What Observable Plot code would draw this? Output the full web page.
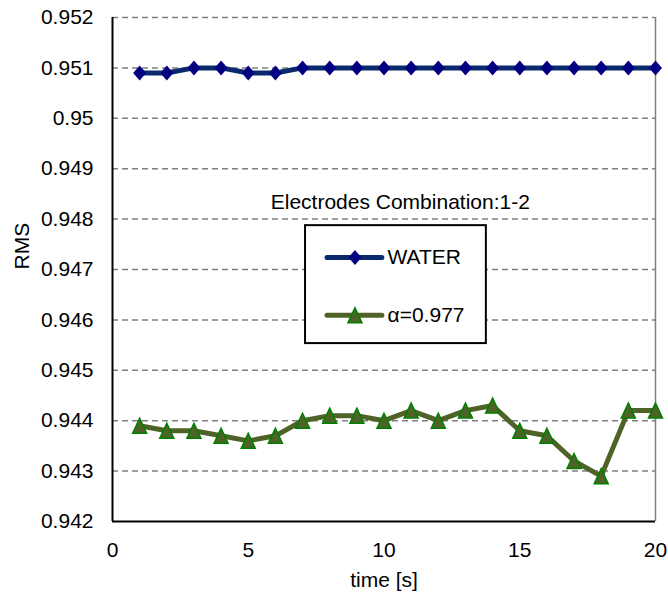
<!DOCTYPE html>
<html>
<head>
<meta charset="utf-8">
<script src="https://cdn.jsdelivr.net/npm/d3@7"></script>
<script src="https://cdn.jsdelivr.net/npm/@observablehq/plot@0.6"></script>
<style>
  html, body { margin: 0; padding: 0; background: #fff; }
  #chart svg { display: block; }
</style>
</head>
<body>
<div id="chart"></div>
<script>
// ---- data ----
const time = [1,2,3,4,5,6,7,8,9,10,11,12,13,14,15,16,17,18,19,20];
const water = [0.9509,0.9509,0.9510,0.9510,0.9509,0.9509,0.9510,0.9510,0.9510,0.9510,
               0.9510,0.9510,0.9510,0.9510,0.9510,0.9510,0.9510,0.9510,0.9510,0.9510];
const alpha977 = [0.9439,0.9438,0.9438,0.9437,0.9436,0.9437,0.9440,0.9441,0.9441,0.9440,
                  0.9442,0.9440,0.9442,0.9443,0.9438,0.9437,0.9432,0.9429,0.9442,0.9442];
const seriesNames = ["WATER", "α=0.977"];
const xTicks = [0,5,10,15,20];
const yTicks = [0.942,0.943,0.944,0.945,0.946,0.947,0.948,0.949,0.950,0.951,0.952];
const annotation = "Electrodes Combination:1-2";
const xLabel = "time [s]";
const yLabel = "RMS";

// ---- styles ----
const waterLine = "#0b2a6e", waterMark = "#000080";
const greenLine = "#4F6228", greenMark = "#4F6228", greenEdge = "#008000";
const FS = 21;

const diamond = {
  draw(ctx, size) {
    const w = 6.5, h = 7.5;
    ctx.moveTo(0, -h); ctx.lineTo(w, 0); ctx.lineTo(0, h); ctx.lineTo(-w, 0); ctx.closePath();
  }
};
const triangle = {
  draw(ctx, size) {
    const w = 7, h = 7.5;
    ctx.moveTo(0, -h); ctx.lineTo(w, h); ctx.lineTo(-w, h); ctx.closePath();
  }
};

const rowsW = time.map((t, i) => ({t, v: water[i]}));
const rowsA = time.map((t, i) => ({t, v: alpha977[i]}));

// legend layout (in data units)
const legBox = {x1: 7.11, x2: 13.77, y1: 0.94553, y2: 0.94787};
const legRows = [
  {name: seriesNames[0], y: 0.94724, line: waterLine},
  {name: seriesNames[1], y: 0.94609, line: greenLine}
];
const legX1 = 7.92, legX2 = 9.94, legTextX = 10.13;

const chart = Plot.plot({
  width: 668,
  height: 605,
  marginLeft: 112,
  marginRight: 13,
  marginTop: 17,
  marginBottom: 84,
  style: {fontFamily: "'Liberation Sans', Arial, sans-serif", fontSize: FS + "px", color: "#000", background: "#fff"},
  x: {domain: [0, 20], ticks: xTicks, tickSize: 0, tickPadding: 21, label: null},
  y: {domain: [0.942, 0.952], ticks: yTicks, tickSize: 0, tickPadding: 19,
      tickFormat: d => String(+d.toFixed(3)), label: null},
  marks: [
    Plot.ruleY(yTicks.slice(1), {stroke: "#808080", strokeWidth: 1.5, strokeDasharray: "6,4"}),
    Plot.ruleX([20], {stroke: "#808080", strokeWidth: 1.5}),
    Plot.ruleX([0], {stroke: "#000", strokeWidth: 2}),
    Plot.ruleY([0.942], {stroke: "#000", strokeWidth: 2}),
    Plot.text([xLabel], {frameAnchor: "bottom", dy: 65, text: d => d, fontSize: FS, fill: "#000"}),
    Plot.text([yLabel], {frameAnchor: "left", dx: -90, rotate: -90, text: d => d, fontSize: FS, fill: "#000"}),
    Plot.text([annotation], {x: 10.6, y: 0.94834, text: d => d, fontSize: FS, fill: "#000"}),
    // legend
    Plot.rect([legBox], {x1: "x1", x2: "x2", y1: "y1", y2: "y2", fill: "#fff", stroke: "#000", strokeWidth: 2}),
    Plot.ruleY(legRows, {x1: legX1, x2: legX2, y: "y", stroke: "line", strokeWidth: 5, strokeLinecap: "round"}),
    Plot.dot(legRows.slice(0,1), {x: (legX1 + legX2) / 2, y: "y", symbol: () => diamond, r: 7, fill: waterMark, stroke: "none"}),
    Plot.dot(legRows.slice(1), {x: (legX1 + legX2) / 2, y: "y", symbol: () => triangle, r: 7, fill: greenMark, stroke: greenEdge, strokeWidth: 1.5}),
    Plot.text(legRows, {x: legTextX, y: "y", text: "name", textAnchor: "start", fontSize: FS, fill: "#000"}),
    // series
    Plot.line(rowsW, {x: "t", y: "v", stroke: waterLine, strokeWidth: 5}),
    Plot.dot(rowsW, {x: "t", y: "v", symbol: () => diamond, r: 7, fill: waterMark, stroke: "none"}),
    Plot.line(rowsA, {x: "t", y: "v", stroke: greenLine, strokeWidth: 5}),
    Plot.dot(rowsA, {x: "t", y: "v", symbol: () => triangle, r: 7, fill: greenMark, stroke: greenEdge, strokeWidth: 1.5})
  ]
});
document.getElementById("chart").appendChild(chart);
</script>
</body>
</html>
